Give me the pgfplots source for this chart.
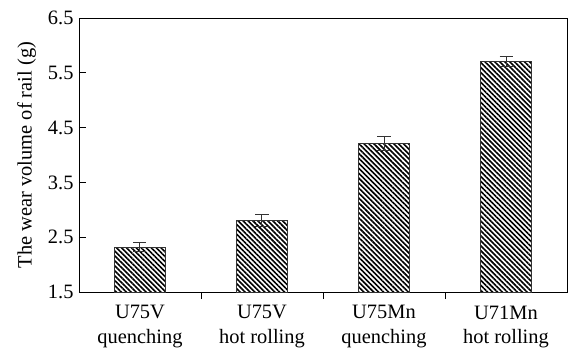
\documentclass[border=0pt]{standalone}
\usepackage{fontspec}
\setmainfont{Liberation Serif}
\usepackage{pgfplots}
\pgfplotsset{compat=1.18}
\usetikzlibrary{patterns.meta,calc}
\definecolor{edge}{HTML}{333333}
\begin{document}
\begin{tikzpicture}
\begin{axis}[
  width=488bp, height=274bp, scale only axis,
  xmin=-0.5, xmax=3.5, ymin=1.5, ymax=6.5,
  ytick={1.5,2.5,3.5,4.5,5.5,6.5},
  yticklabel style={/pgf/number format/fixed,/pgf/number format/precision=1,/pgf/number format/fixed zerofill, xshift=-2bp},
  /pgf/number format/assume math mode=true,
  xtick={0.5,1.5,2.5}, xticklabels={},
  extra x ticks={0,1,2,3},
  extra x tick labels={U75V\\quenching, U75V\\hot rolling, U75Mn\\quenching, U71Mn\\hot rolling},
  extra x tick style={major tick length=0pt},
  xticklabel style={align=center, yshift=-10bp},
  tick label style={font=\fontsize{20.5}{25}\selectfont},
  label style={font=\fontsize{20.5}{25}\selectfont},
  ylabel={The wear volume of rail (g)},
  ylabel style={yshift=5bp},
  tick align=inside, major tick length=7bp,
  xtick pos=bottom, ytick pos=left,
  axis line style={line width=0.9bp, black},
  tick style={line width=0.9bp, black},
  ybar, bar width=51bp, bar shift=0pt,
]
\addplot+[draw=edge, line width=1bp,
  pattern={Lines[angle=-45,distance=3.5bp,line width=1.6bp]}, pattern color=black,
  error bars/.cd, y dir=both, y explicit,
  error bar style={line width=1bp, edge},
  error mark options={rotate=90, mark size=6.5bp, line width=1bp, edge}]
coordinates {
(0,2.32) +- (0,0.08)
(1,2.80) +- (0,0.11)
(2,4.21) +- (0,0.12)
(3,5.70) +- (0,0.09)
};
\end{axis}
\pgfresetboundingbox
\path ($(current axis.south west)+(-79bp,-57bp)$) rectangle ($(current axis.north east)+(1bp,18bp)$);
\end{tikzpicture}
\end{document}
